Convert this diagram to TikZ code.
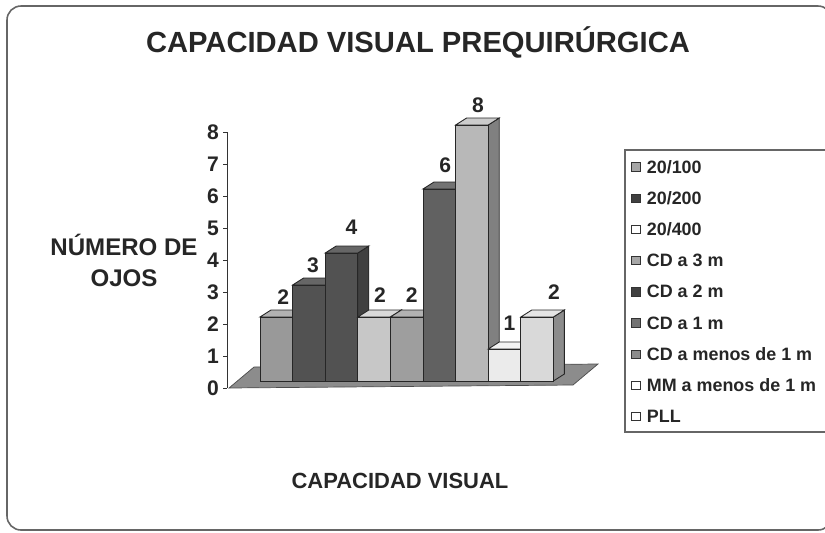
\documentclass[tikz,border=0pt]{standalone}
\usepackage{fontspec}
\setmainfont{Liberation Sans}

\begin{document}
\begin{tikzpicture}[x=0.02cm, y=-0.02cm]

	\tikzstyle{chart_text}=[text=black!85, font=\bfseries]
	\tikzstyle{bar_face}=[draw=black!85, line width=0.5pt]
	\tikzstyle{legend_key}=[rectangle, draw=black!80, minimum size=4.8pt, inner sep=0pt]
	\tikzstyle{legend_text}=[anchor=west, inner sep=2pt, text=black!85, font=\bfseries\fontsize{10.2}{12}\selectfont]

	\useasboundingbox (0,0) rectangle (825,532);
	\draw[rounded corners=8pt, line width=0.9pt, black!60] (7,6) rectangle (832,530);

	\node[chart_text, font=\bfseries\fontsize{16.6}{19}\selectfont] (title) at (418,42) {CAPACIDAD VISUAL PREQUIR\'URGICA};
	\node[chart_text, align=center, font=\bfseries\fontsize{13.7}{17.6}\selectfont] (y_label) at (124,260) {N\'UMERO DE\\OJOS};
	\node[chart_text, font=\bfseries\fontsize{12.5}{15}\selectfont] (x_label) at (400,481) {CAPACIDAD VISUAL};

	% floor of the chart
	\draw[fill=black!45, draw=black!70] (229,388) -- (573,385) -- (598,364) -- (254,367) -- cycle;

	% value axis
	\draw[black!80] (227,132) -- (227,388);
	\foreach \k in {0,...,8} {
		\draw[black!80] (223,388-32*\k) -- (227,388-32*\k);
		\node[chart_text, font=\bfseries\fontsize{12}{14}\selectfont] (tick_\k) at (213,388-32*\k) {\k};
	}

	% bars: index/value/label shift/front/top/side
	\foreach \i/\val/\dx/\dy/\fc/\tc/\sc in {
		0/2/7/20/black!40/black!30/black!55,
		1/3/4/20/black!68/black!60/black!75,
		2/4/10/26/black!68/black!60/black!75,
		3/2/6/22/black!22/black!15/black!40,
		4/2/5/22/black!38/black!30/black!50,
		5/6/6/24/black!62/black!55/black!70,
		6/8/6/20/black!28/black!20/black!50,
		7/1/5/26/black!8/black!5/black!30,
		8/2/17/25/black!15/black!10/black!45} {
		\pgfmathsetmacro{\xl}{260+32.6*\i}
		\pgfmathsetmacro{\xr}{\xl+32.6}
		\pgfmathsetmacro{\yt}{381-32*\val}
		\draw[bar_face, fill=\sc] (\xr,381) -- (\xr+11,374) -- (\xr+11,\yt-7) -- (\xr,\yt) -- cycle;
		\draw[bar_face, fill=\tc] (\xl,\yt) -- (\xl+11,\yt-7) -- (\xr+11,\yt-7) -- (\xr,\yt) -- cycle;
		\draw[bar_face, fill=\fc] (\xl,\yt) rectangle (\xr,381);
		\node[chart_text, font=\bfseries\fontsize{12}{14}\selectfont] (value_\i) at (\xl+16.3+\dx,\yt-\dy) {\val};
	}

	% legend
	\draw[black!60, line width=0.6pt] (625,150) rectangle (860,432);
	\foreach \j/\entry/\kc in {
		0/20\slash 100/black!35,
		1/20\slash 200/black!75,
		2/20\slash 400/white,
		3/CD a 3 m/black!35,
		4/CD a 2 m/black!75,
		5/CD a 1 m/black!55,
		6/CD a menos de 1 m/black!45,
		7/MM a menos de 1 m/white,
		8/PLL/white} {
		\node[legend_key, fill=\kc] (key_\j) at (636,167+31.2*\j) {};
		\node[legend_text] (entry_\j) at (643,167+31.2*\j) {\entry};
	}

\end{tikzpicture}
\end{document}
